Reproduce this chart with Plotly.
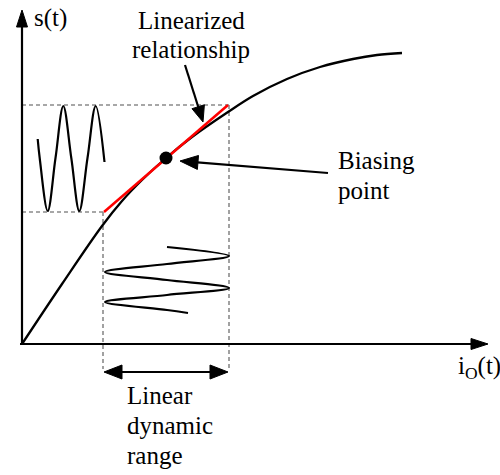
import plotly.graph_objects as go

# ---- data (diagram coordinates: input current io on x, output s on y) ----
curve_x = [0, 40, 80, 100, 120, 144, 170, 206, 231, 265, 298, 331, 355, 380]
curve_y = [0, 60, 118, 143, 164, 186, 207, 232, 248, 265, 277, 285, 289, 291]

bias_x, bias_y = 144, 186
in_lo, in_hi = 81, 207       # linear dynamic range (input)
out_lo, out_hi = 132, 239    # corresponding output range

# output waveform s(t) (drawn to the left, oscillating vertically)
out_wave_x = [15.7, 17.7, 25.7, 33.5, 41.3, 49.3, 57.3, 65.5, 73.7, 82.5]
out_wave_y = [205, 186, 133, 186, 238, 186, 133, 186, 238, 182]

# input waveform io(t) (drawn below, oscillating horizontally)
in_wave_x = [145, 207, 145, 83, 145, 207, 145, 83, 145, 166]
in_wave_y = [97, 88, 80, 72, 64, 56, 49, 42, 34, 31]

x_axis_end = 466
y_axis_end = 334
below_axis = -25

FONT = dict(family="Liberation Serif", size=25, color="black")

fig = go.Figure()


def add_line(xs, ys, color="black", width=2, dash=None, shape="linear"):
    fig.add_trace(go.Scatter(x=xs, y=ys, mode="lines",
                             line=dict(color=color, width=width, dash=dash, shape=shape, smoothing=1),
                             hoverinfo="skip", showlegend=False))


def add_arrow(x0, y0, x1, y1, head_len=17, head_w=11, width=2, both=False):
    dx, dy = x1 - x0, y1 - y0
    L = (dx * dx + dy * dy) ** 0.5
    ux, uy = dx / L, dy / L
    sx = x0 + ux * head_len * 0.8 if both else x0
    sy = y0 + uy * head_len * 0.8 if both else y0
    add_line([sx, x1 - ux * head_len * 0.8], [sy, y1 - uy * head_len * 0.8], width=width)
    tips = [(x1, y1, ux, uy)]
    if both:
        tips.append((x0, y0, -ux, -uy))
    for tx, ty, vx, vy in tips:
        bx, by = tx - vx * head_len, ty - vy * head_len
        qx, qy = -vy, vx
        fig.add_trace(go.Scatter(
            x=[tx, bx + qx * head_w / 2, bx - qx * head_w / 2, tx],
            y=[ty, by + qy * head_w / 2, by - qy * head_w / 2, ty],
            mode="lines", fill="toself", fillcolor="black",
            line=dict(color="black", width=1), hoverinfo="skip", showlegend=False))


# dashed guide lines
GRAY = "#8a8a8a"
DASH = "4px,3px"
add_line([0, in_hi], [out_hi, out_hi], color=GRAY, width=1.6, dash=DASH)
add_line([0, in_lo], [out_lo, out_lo], color=GRAY, width=1.6, dash=DASH)
add_line([in_lo, in_lo], [out_lo, below_axis], color=GRAY, width=1.6, dash=DASH)
add_line([in_hi, in_hi], [out_hi, below_axis], color=GRAY, width=1.6, dash=DASH)

# axes with arrows
add_arrow(0, 0, 0, y_axis_end, head_len=17, head_w=11, width=2.2)
add_arrow(-2, 0, x_axis_end, 0, head_len=17, head_w=11, width=2.2)

# characteristic curve
add_line(curve_x, curve_y, width=2.3, shape="spline")

# waveforms
add_line(out_wave_x, out_wave_y, width=2.2, shape="spline")
add_line(in_wave_x, in_wave_y, width=2.2, shape="spline")

# linearized relationship (tangent)
add_line([in_lo + 1, in_hi - 1], [out_lo, out_hi], color="red", width=2.5)

# biasing point
fig.add_trace(go.Scatter(x=[bias_x], y=[bias_y], mode="markers",
                         marker=dict(color="black", size=13), hoverinfo="skip", showlegend=False))

# annotation arrows
add_arrow(163, 279, 181, 222, head_len=16, head_w=13, width=2.2)
add_arrow(306, 171, 158, 183, head_len=18, head_w=14, width=2.2)
add_arrow(in_lo + 1, -28, in_hi - 1, -28, head_len=18, head_w=14, width=2.2, both=True)

# labels (one annotation per text line for tight line spacing)
labels = [
    (10, 326.5, "s(t)", "left"),
    (169, 323.5, "Linearized", "center"),
    (169, 294.5, "relationship", "center"),
    (314, 183.5, "Biasing", "left"),
    (314, 153.5, "point", "left"),
    (434, -23, "i<sub>O</sub>(t)", "left"),
    (103, -51.5, "Linear", "left"),
    (103, -81.5, "dynamic", "left"),
    (103, -111.5, "range", "left"),
]
for x, y, t, anc in labels:
    fig.add_annotation(x=x, y=y, xref="x", yref="y", text=t, showarrow=False,
                       xanchor=anc, yanchor="middle", align=anc, font=FONT)

fig.update_layout(
    width=500, height=475,
    margin=dict(l=0, r=0, t=0, b=0),
    paper_bgcolor="white", plot_bgcolor="white",
    font=dict(family="Liberation Serif"),
    xaxis=dict(range=[-22, 478], visible=False, fixedrange=True),
    yaxis=dict(range=[-131, 344], visible=False, fixedrange=True),
    showlegend=False,
)

fig.write_html("out.html")
